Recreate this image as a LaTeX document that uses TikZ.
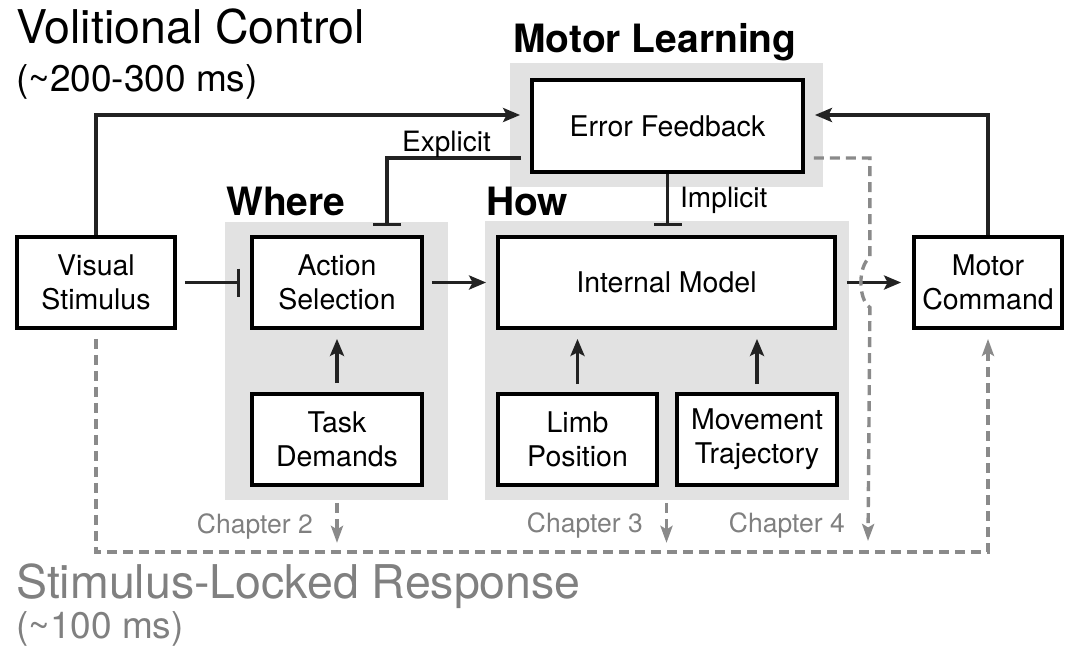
\documentclass[tikz,border=0pt]{standalone}
\usepackage{fontspec}
\setmainfont{TeX Gyre Heros}
\usetikzlibrary{arrows.meta,calc}
\definecolor{bggray}{HTML}{E2E2E2}
\definecolor{txtgray}{HTML}{808080}
\definecolor{dashgray}{HTML}{8A8A8A}
\definecolor{linecol}{HTML}{222222}
\begin{document}
\begin{tikzpicture}[x=1pt,y=-1pt,
  box/.style={draw=black, line width=3.8pt, fill=white, align=center,
    font=\fontsize{28.5}{34}\selectfont, inner sep=0pt, minimum height=91pt},
  conn/.style={line width=3.4pt, draw=linecol},
  arr/.style={conn, -{Stealth[length=17pt,width=14pt,inset=3.5pt]}},
  tbar/.style={conn, -{Bar[width=28pt]}},
  dasharr/.style={line width=3.4pt, draw=dashgray, dash pattern=on 10pt off 6pt,
    -{Stealth[length=17pt,width=12pt,inset=3.5pt,fill=dashgray]}},
  bigtitle/.style={anchor=base west, inner sep=0pt, font=\fontsize{46.5}{50}\selectfont},
  subtitle/.style={anchor=base west, inner sep=0pt, font=\fontsize{37}{40}\selectfont},
  head/.style={inner sep=0pt, font=\fontsize{39}{42}\selectfont\bfseries},
  lbl/.style={inner sep=0pt, font=\fontsize{28}{30}\selectfont},
  chap/.style={anchor=base east, inner sep=0pt, text=txtgray, font=\fontsize{26.5}{30}\selectfont}
]
\useasboundingbox (0,0) rectangle (1065,650);

% grey regions
\fill[bggray] (510,63) rectangle (823,187);
\fill[bggray] (225,222) rectangle (448,500);
\fill[bggray] (485,221) rectangle (849,500);

% titles
\node[bigtitle] (vc) at (16,44) {Volitional Control};
\node[subtitle] (vct) at (16,92) {(\textasciitilde 200-300 ms)};
\node[head, anchor=base] (ml) at (655,53) {Motor Learning};
\node[head, anchor=base west] (wh) at (226,215) {Where};
\node[head, anchor=base west] (hw) at (486,215) {How};
\node[bigtitle, text=txtgray] (slr) at (16,598) {Stimulus-Locked Response};
\node[subtitle, text=txtgray] (slt) at (16,638) {(\textasciitilde 100 ms)};

% boxes
\node[box, minimum width=271pt, minimum height=92pt] (ef) at (667.5,126) {Error Feedback};
\node[box, minimum width=158pt] (vs) at (96,282.5) {Visual\\Stimulus};
\node[box, minimum width=170pt] (as) at (337,282.5) {Action\\Selection};
\node[box, minimum width=170pt] (td) at (337,439.5) {Task\\Demands};
\node[box, minimum width=337pt] (im) at (666.5,282.5) {Internal Model};
\node[box, minimum width=159pt] (lp) at (577.5,439.5) {Limb\\Position};
\node[box, minimum width=160pt] (mt) at (757,439.5) {Movement\\Trajectory};
\node[box, minimum width=148pt] (mc) at (988,282.5) {Motor\\Command};

% solid connectors
\draw[arr] (vs.north) |- ($(ef.west)+(-10,-11)$);
\draw[arr] (mc.north) |- ($(ef.east)+(10,-11)$);
\draw[tbar] ($(ef.west)+(-9,32)$) -| ($(as.north)+(50,-9)$);
\node[lbl, anchor=base west] (exl) at (402,151) {Explicit};
\draw[tbar] (ef.south) -- ($(ef.south |- im.north)+(0,-9)$);
\node[lbl, anchor=west] (iml) at (680,200) {Implicit};
\draw[tbar] ($(vs.east)+(8,0)$) -- ($(as.west)+(-10,0)$);
\draw[arr] ($(as.east)+(8,0)$) -- ($(im.west)+(-10,0)$);
\draw[arr] ($(im.east)+(10,0)$) -- ($(mc.west)+(-11,0)$);
\draw[arr] ($(td.north)+(0,-9)$) -- ($(as.south)+(0,9)$);
\draw[arr] ($(lp.north)+(0,-8)$) -- ($(lp.north |- im.south)+(0,9)$);
\draw[arr] ($(mt.north)+(0,-8)$) -- ($(mt.north |- im.south)+(0,9)$);

% dashed connectors
\coordinate (c4) at (868,541);
\draw[dasharr] ($(ef.east)+(9,32)$) -| ($(im.east)+(33,-25)$)
   .. controls +(-12,8) and +(-12,-8) .. ($(im.east)+(33,25)$) -- (c4);
\node[chap] (ch4) at (845,532) {Chapter 4};
\draw[dasharr] ($(td.south)+(0,16)$) -- ($(td.south)+(0,56)$);
\node[chap] (ch2) at ($(td.south)+(-24,47)$) {Chapter 2};
\draw[dasharr] ($(im.south |- lp.south)+(0,16)$) -- ($(im.south |- lp.south)+(0,56)$);
\node[chap] (ch3) at (643,532) {Chapter 3};
\draw[dasharr] ($(vs.south)+(0,9)$) |- ($(mc.south)+(0,222)$) -- ($(mc.south)+(0,9)$);
\end{tikzpicture}
\end{document}
